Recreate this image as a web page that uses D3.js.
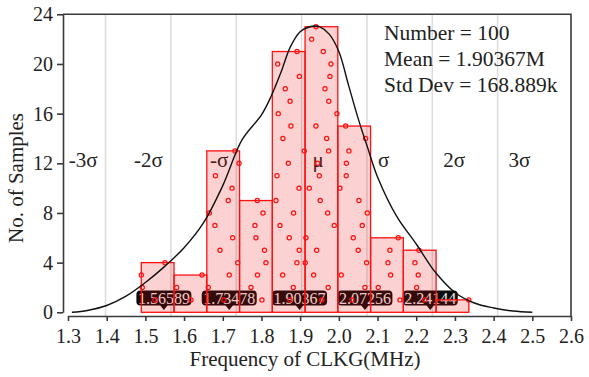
<!DOCTYPE html>
<html>
<head>
<meta charset="utf-8">
<script src="https://cdn.jsdelivr.net/npm/d3@7"></script>
<style>
  html, body { margin: 0; padding: 0; background: #fff; }
  svg { display: block; font-family: "Liberation Serif", "Times New Roman", serif; }
</style>
</head>
<body>
<svg id="chart" width="589" height="377"></svg>
<script>
// Samples, listed bin by bin from the bottom dot upwards
const samples = [
  1.5248, 1.4920, 1.4894, 1.5506,
  1.6178, 1.5809, 1.6463,
  1.7031, 1.6625, 1.7168, 1.7385, 1.6928, 1.7256, 1.6798, 1.6651, 1.7142, 1.7240, 1.6810, 1.7420, 1.7315,
  1.8013, 1.7729, 1.7897, 1.8116, 1.8078, 1.7858, 1.7832, 1.8039, 1.7891,
  1.8736, 1.8822, 1.8548, 1.8917, 1.8977, 1.8718, 1.8478, 1.8830, 1.8375, 1.8970, 1.8401,
  1.8693, 1.9106, 1.8555, 1.8762, 1.8434, 1.8740, 1.8615, 1.8980, 1.8419, 1.8920,
  1.9563, 1.9726, 1.9349, 1.9132, 1.9426, 1.9150, 1.9881, 1.9711, 1.9519, 1.9235, 1.9494,
  1.9452, 1.9736, 1.9685, 1.9408, 1.9951, 1.9740, 1.9641, 1.9770, 1.9796, 1.9597, 1.9297, 1.9410,
  2.0339, 2.0674, 2.0062, 2.0718, 2.0501, 2.0372, 2.0605, 2.0734, 2.0519, 2.0028, 2.0191, 2.0195, 2.0261, 2.0693, 2.0176,
  2.1579, 2.1018, 2.1339, 2.1269, 2.1320, 2.1535,
  2.2225, 2.2010, 2.2052, 2.1966, 2.2070,
  2.3360
];
const binCount = 10;

// Fitted (smoothed) curve
const curveX = [1.31, 1.35, 1.40, 1.45, 1.50, 1.55, 1.60, 1.65, 1.70, 1.75, 1.80, 1.825, 1.85, 1.875, 1.90,
  1.925, 1.938, 1.95, 1.975, 2.00, 2.025, 2.05, 2.075, 2.10, 2.15, 2.20, 2.25, 2.30, 2.35, 2.40, 2.45, 2.50];
const curveY = [0.0, 0.15, 0.55, 1.3, 2.4, 3.7, 5.2, 7.2, 10.2, 13.9, 15.9, 17.4, 19.3, 21.4, 22.6,
  23.0, 23.06, 23.0, 22.4, 21.0, 18.3, 15.6, 13.2, 10.9, 7.7, 5.5, 3.2, 1.6, 0.75, 0.35, 0.1, 0.0];

const mean = 1.90367;
const stdDev = 0.168889;
const sigmaSteps = [-3, -2, -1, 0, 1, 2, 3];
const sigmaNames = ['-3σ', '-2σ', '-σ', 'μ', 'σ', '2σ', '3σ'];
const calloutSteps = [-2, -1, 0, 1, 2];
const calloutText = ['1.56589', '1.73478', '1.90367', '2.07256', '2.24144'];

const xTicks = [1.3, 1.4, 1.5, 1.6, 1.7, 1.8, 1.9, 2.0, 2.1, 2.2, 2.3, 2.4, 2.5, 2.6];
const yTicks = [0, 4, 8, 12, 16, 20, 24];
const statLines = ['Number = 100', 'Mean = 1.90367M', 'Std Dev = 168.889k'];

const svg = d3.select('#chart');
const axisColor = '#3a3a3a';

const x = d3.scaleLinear().domain([1.3, 2.6]).range([68, 571]);
const y = d3.scaleLinear().domain([0, 24]).range([312.3, 14.3]);

// Bins: equal width between smallest and largest sample, input order kept
const [lo, hi] = d3.extent(samples);
const edges = d3.range(binCount + 1).map((i) => lo + (hi - lo) * i / binCount);
const bins = d3.bin()
  .domain([lo, hi])
  .thresholds(edges.slice(1, -1))(samples);

const dots = [];
bins.forEach((b) => b.forEach((v, i) => dots.push({ v, k: i + 1 })));

// Sigma gridlines
svg.append('g')
  .selectAll('line')
  .data(sigmaSteps)
  .join('line')
  .attr('x1', (d) => x(mean + d * stdDev))
  .attr('x2', (d) => x(mean + d * stdDev))
  .attr('y1', y(24))
  .attr('y2', 316)
  .attr('stroke', '#dcdcdc')
  .attr('stroke-width', 1.5);

// Sigma names
svg.append('g')
  .selectAll('text')
  .data(sigmaSteps)
  .join('text')
  .attr('x', (d, i) => x(mean + d * stdDev) + (d < 0 ? -8 : 11))
  .attr('y', 167)
  .attr('text-anchor', (d) => (d < 0 ? 'end' : 'start'))
  .attr('font-size', 21)
  .attr('fill', '#222')
  .text((d, i) => sigmaNames[i]);

// Value callouts (drawn under the translucent bars)
const callout = svg.append('g')
  .selectAll('g')
  .data(calloutSteps)
  .join('g')
  .attr('transform', (d) => `translate(${x(mean + d * stdDev) - (d < 0 ? 7 : 2)},298)`);

callout.append('rect')
  .attr('x', -27.5)
  .attr('y', -7.5)
  .attr('width', 55)
  .attr('height', 15)
  .attr('rx', 4)
  .attr('fill', '#0d0d0d');

callout.append('path')
  .attr('d', 'M-4,7 L0,12 L4,7 Z')
  .attr('fill', '#0d0d0d');

callout.append('text')
  .attr('text-anchor', 'middle')
  .attr('dy', '0.35em')
  .attr('font-size', 16)
  .attr('fill', '#f4f4f4')
  .text((d, i) => calloutText[i]);

// Histogram bars
svg.append('g')
  .selectAll('rect')
  .data(bins)
  .join('rect')
  .attr('x', (d) => x(d.x0))
  .attr('y', (d) => y(d.length))
  .attr('width', (d) => x(d.x1) - x(d.x0))
  .attr('height', (d) => y(0) - y(d.length))
  .attr('fill', 'rgba(240,0,0,0.18)')
  .attr('stroke', '#ff1010')
  .attr('stroke-width', 1.3);

// Sample dots
svg.append('g')
  .selectAll('circle')
  .data(dots)
  .join('circle')
  .attr('cx', (d) => x(d.v))
  .attr('cy', (d) => y(d.k))
  .attr('r', 2.1)
  .attr('fill', 'none')
  .attr('stroke', '#ff1010')
  .attr('stroke-width', 1.2);

// Curve
const line = d3.line()
  .x((d, i) => x(curveX[i]))
  .y((d) => y(d))
  .curve(d3.curveCatmullRom.alpha(0.5));

svg.append('path')
  .datum(curveY)
  .attr('d', line)
  .attr('fill', 'none')
  .attr('stroke', '#111')
  .attr('stroke-width', 1.4);

// Axes
const xAxis = svg.append('g')
  .attr('transform', 'translate(0,316)')
  .call(d3.axisBottom(x).tickValues(xTicks).tickFormat(d3.format('.1f')).tickSize(5).tickSizeOuter(0));

const yAxis = svg.append('g')
  .attr('transform', 'translate(63,0)')
  .call(d3.axisLeft(y).tickValues(yTicks).tickSize(6).tickSizeOuter(0));

[xAxis, yAxis].forEach((g) => {
  g.attr('font-family', null).attr('font-size', 20);
  g.select('.domain').attr('stroke', axisColor).attr('stroke-width', 1.6);
  g.selectAll('.tick line').attr('stroke', axisColor).attr('stroke-width', 1.6);
  g.selectAll('.tick text').attr('fill', '#222');
});
xAxis.selectAll('.tick text').attr('dy', '0.95em');
yAxis.selectAll('.tick text').attr('x', -10);

// Frame: top and right
svg.append('path')
  .attr('d', `M63,${y(24)} H${x(2.6)} V316`)
  .attr('fill', 'none')
  .attr('stroke', axisColor)
  .attr('stroke-width', 1.6);

// Axis titles
svg.append('text')
  .attr('x', 305)
  .attr('y', 366)
  .attr('text-anchor', 'middle')
  .attr('font-size', 21)
  .attr('fill', '#222')
  .text('Frequency of CLKG(MHz)');

svg.append('text')
  .attr('transform', 'translate(23,178) rotate(-90)')
  .attr('text-anchor', 'middle')
  .attr('font-size', 21)
  .attr('fill', '#222')
  .text('No. of Samples');

// Statistics box
svg.append('g')
  .selectAll('text')
  .data(statLines)
  .join('text')
  .attr('x', 384)
  .attr('y', (d, i) => 40 + i * 26)
  .attr('font-size', 21.5)
  .attr('fill', '#222')
  .text((d) => d);
</script>
</body>
</html>
